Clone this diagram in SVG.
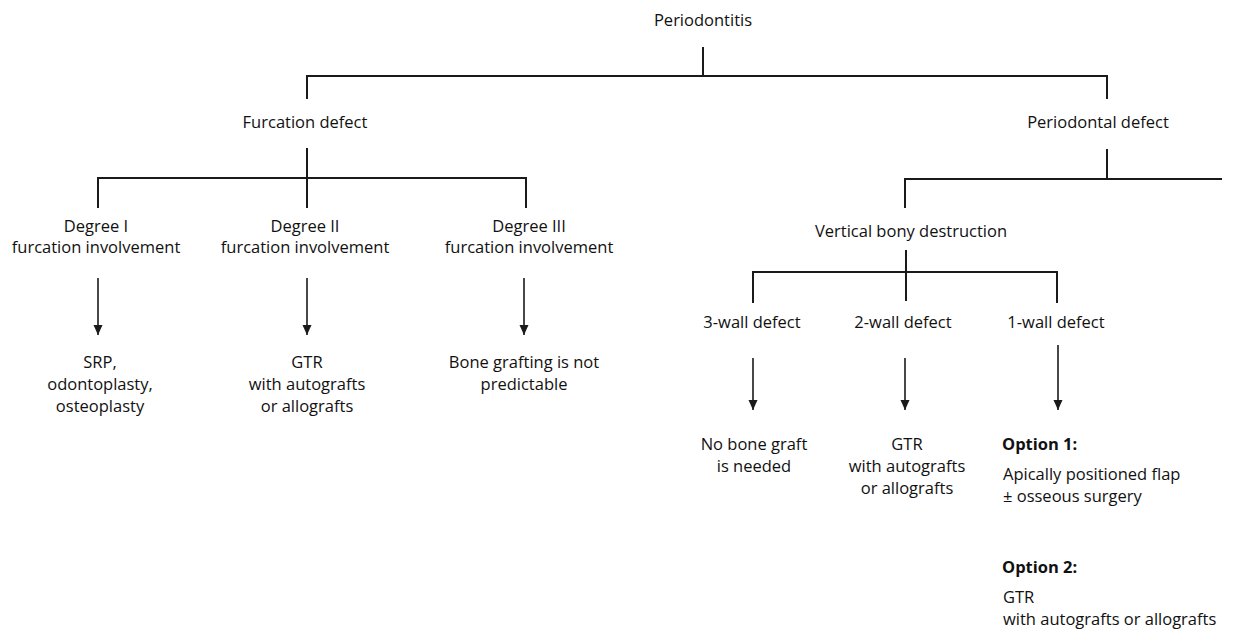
<svg xmlns="http://www.w3.org/2000/svg" width="1233" height="633" viewBox="0 0 1233 633">
<style>
  text { font-family: "Open Sans", "Liberation Sans", sans-serif; font-size: 16.5px; fill: #111111; text-anchor: middle; }
  .l { text-anchor: start; }
  .b { font-weight: bold; }
  .ln { stroke: #1a1a1a; stroke-width: 2; fill: none; }
  .ar { stroke: #1a1a1a; stroke-width: 1.6; fill: none; marker-end: url(#ah); }
</style>
<defs>
  <marker id="ah" markerUnits="userSpaceOnUse" markerWidth="10" markerHeight="10" viewBox="0 0 10 10" refX="10" refY="5" orient="auto">
    <path d="M0,0.5 L10,5 L0,9.5 Z" fill="#1a1a1a"/>
  </marker>
</defs>
<rect width="1233" height="633" fill="#ffffff"/>
<g id="connectors">
  <path class="ln" d="M703,47 V76 M307,99 V76 H1107 V99"/>
  <path class="ln" d="M307,148 V208 M98,208 V178 H526 V208"/>
  <path class="ln" d="M1107,149 V179 M905,208 V179 H1222"/>
  <path class="ln" d="M906,250 V301 M753,303 V272 H1057 V303"/>
  <path class="ar" d="M98,278 V335"/>
  <path class="ar" d="M307,278 V335"/>
  <path class="ar" d="M524,278 V335"/>
  <path class="ar" d="M753,358 V410"/>
  <path class="ar" d="M905,358 V410"/>
  <path class="ar" d="M1058,345 V410"/>
</g>
<g id="n-periodontitis"><text x="703" y="26">Periodontitis</text></g>
<g id="n-furcation"><text x="305" y="128">Furcation defect</text></g>
<g id="n-periodontal"><text x="1098" y="128">Periodontal defect</text></g>
<g id="n-degree1"><text x="96" y="232">Degree I</text><text x="96" y="253">furcation involvement</text></g>
<g id="n-degree2"><text x="305" y="232">Degree II</text><text x="305" y="253">furcation involvement</text></g>
<g id="n-degree3"><text x="529" y="232">Degree III</text><text x="529" y="253">furcation involvement</text></g>
<g id="n-srp"><text x="100" y="368">SRP,</text><text x="100" y="390">odontoplasty,</text><text x="100" y="412">osteoplasty</text></g>
<g id="n-gtr1"><text x="307" y="368">GTR</text><text x="307" y="390">with autografts</text><text x="307" y="412">or allografts</text></g>
<g id="n-bone"><text x="524" y="368">Bone grafting is not</text><text x="524" y="390">predictable</text></g>
<g id="n-vertical"><text x="911" y="237">Vertical bony destruction</text></g>
<g id="n-3wall"><text x="752" y="328">3-wall defect</text></g>
<g id="n-2wall"><text x="903" y="328">2-wall defect</text></g>
<g id="n-1wall"><text x="1056" y="328">1-wall defect</text></g>
<g id="n-nobone"><text x="754" y="450">No bone graft</text><text x="754" y="472">is needed</text></g>
<g id="n-gtr2"><text x="907" y="450">GTR</text><text x="907" y="472">with autografts</text><text x="907" y="494">or allografts</text></g>
<g id="n-option1"><text class="l b" x="1002" y="450">Option 1:</text><text class="l" x="1003" y="480">Apically positioned flap</text><text class="l" x="1003" y="502">± osseous surgery</text></g>
<g id="n-option2"><text class="l b" x="1002" y="573">Option 2:</text><text class="l" x="1003" y="603">GTR</text><text class="l" x="1003" y="625">with autografts or allografts</text></g>
</svg>
